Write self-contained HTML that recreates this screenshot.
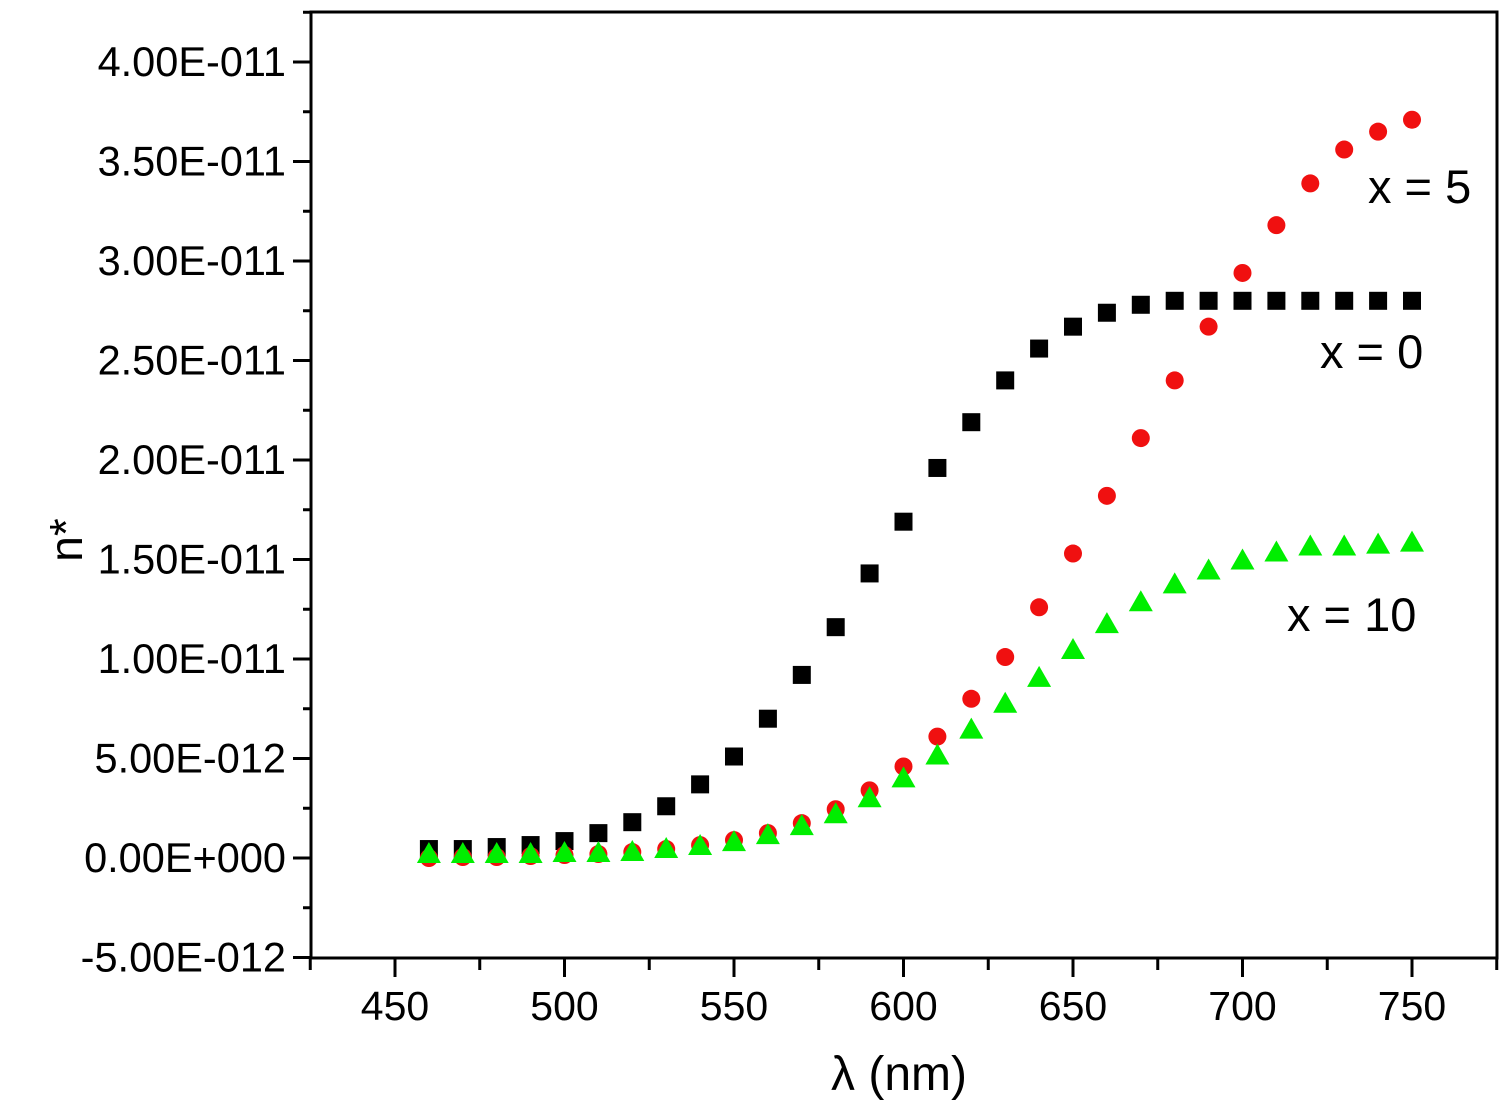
<!DOCTYPE html>
<html><head><meta charset="utf-8"><style>
body{margin:0;background:#fff;width:1509px;height:1102px;overflow:hidden}
svg text{font-family:"Liberation Sans",Arial,sans-serif;fill:#000}
</style></head><body>
<svg id="c" width="1509" height="1102"></svg>
<script>
const wavelengths=[460,470,480,490,500,510,520,530,540,550,560,570,580,590,600,610,620,630,640,650,660,670,680,690,700,710,720,730,740,750];
const seriesX0=[0.45,0.45,0.55,0.65,0.85,1.25,1.8,2.6,3.7,5.1,7.0,9.2,11.6,14.3,16.9,19.6,21.9,24.0,25.6,26.7,27.4,27.8,28.0,28.0,28.0,28.0,28.0,28.0,28.0,28.0];
const seriesX5=[0,0.05,0.05,0.1,0.15,0.2,0.3,0.45,0.65,0.9,1.25,1.75,2.45,3.4,4.6,6.1,8.0,10.1,12.6,15.3,18.2,21.1,24.0,26.7,29.4,31.8,33.9,35.6,36.5,37.1];
const seriesX10=[0.15,0.15,0.15,0.15,0.2,0.2,0.25,0.4,0.55,0.75,1.1,1.55,2.15,2.95,3.95,5.1,6.4,7.7,9.0,10.4,11.7,12.8,13.7,14.4,14.9,15.3,15.6,15.6,15.7,15.8];
const yTickLabels=["-5.00E-012","0.00E+000","5.00E-012","1.00E-011","1.50E-011","2.00E-011","2.50E-011","3.00E-011","3.50E-011","4.00E-011"];
const yTickValues=[-5,0,5,10,15,20,25,30,35,40];
const xTickValues=[450,500,550,600,650,700,750];
const NS="http://www.w3.org/2000/svg";
const svg=document.getElementById('c');
const xs=v=>395+(v-450)*169.5/50;
const ys=v=>858-v*19.9;
function el(t,a,p){const e=document.createElementNS(NS,t);for(const k in a)e.setAttribute(k,a[k]);(p||svg).appendChild(e);return e;}
const frame=el('rect',{x:311,y:12,width:1186,height:946,fill:'none',stroke:'#000','stroke-width':3});


for(let i=0;i<yTickValues.length;i++){
 const y=ys(yTickValues[i]);
 el('line',{x1:293,x2:311,y1:y,y2:y,stroke:'#000','stroke-width':3});
 if(i<yTickValues.length-1){const ym=ys(yTickValues[i]+2.5);el('line',{x1:303,x2:311,y1:ym,y2:ym,stroke:'#000','stroke-width':3});}
 const t=el('text',{x:286,y:y+14,'text-anchor':'end','font-size':41.5});t.textContent=yTickLabels[i];
 
 
}
el('line',{x1:303,x2:311,y1:ys(42.5),y2:ys(42.5),stroke:'#000','stroke-width':3});
for(let v=425;v<=775;v+=25){
 const x=xs(v);const major=(v%50===0);
 el('line',{x1:x,x2:x,y1:958,y2:major?977:970,stroke:'#000','stroke-width':3});
}
xTickValues.forEach(v=>{const t=el('text',{x:xs(v),y:1020,'text-anchor':'middle','font-size':41});t.textContent=v;
 
 });
const xt=el('text',{x:899,y:1090,'text-anchor':'middle','font-size':48});xt.textContent='λ (nm)';


const yt=el('text',{x:0,y:0,'text-anchor':'middle','font-size':46,transform:'translate(82,540) rotate(-90)'});yt.textContent='n*';


wavelengths.forEach((w,i)=>{
 const x=xs(w);
 const s=el('rect',{x:x-9,y:ys(seriesX0[i])-9,width:18,height:18,fill:'#000'});
 
 
});
wavelengths.forEach((w,i)=>{
 const c=el('circle',{cx:xs(w),cy:ys(seriesX5[i]),r:9,fill:'#f01010'});
 
 
});
wavelengths.forEach((w,i)=>{
 const x=xs(w),y=ys(seriesX10[i]);
 const p=el('polygon',{points:`${x-12},${y+8} ${x+12},${y+8} ${x},${y-13}`,fill:'#00ee00'});
 
 
});
[["x = 5",1368,203],["x = 0",1320,368],["x = 10",1287,631]].forEach(a=>{
 const t=el('text',{x:a[1],y:a[2],'font-size':47});t.textContent=a[0];
 
 
});
</script>
</body></html>
